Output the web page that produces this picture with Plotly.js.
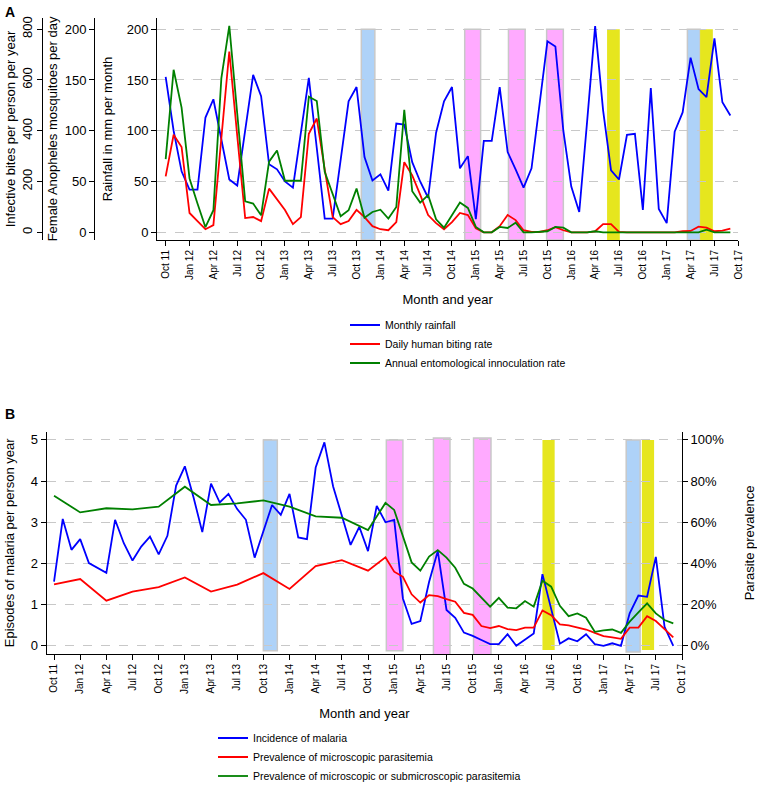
<!DOCTYPE html>
<html><head><meta charset="utf-8">
<script src="https://cdn.plot.ly/plotly-3.0.1.min.js"></script>
<style>
html,body{margin:0;padding:0;background:#fff;}
#chart{width:757px;height:787px;}
</style></head><body><div id="chart"></div>
<script>
// ---------- tick labels (every 3 months, Oct 2011 = month 0) ----------
const tickText = ["Oct 11","Jan 12","Apr 12","Jul 12","Oct 12","Jan 13","Apr 13","Jul 13","Oct 13","Jan 14","Apr 14","Jul 14","Oct 14","Jan 15","Apr 15","Jul 15","Oct 15","Jan 16","Apr 16","Jul 16","Oct 16","Jan 17","Apr 17","Jul 17","Oct 17"];
const prevTickText = ["0%","20%","40%","60%","80%","100%"];

// ---------- Panel A ----------
const rainfall = [153,100,60,42,42,113,131,91,52,46,100,155,134,67,62,50,44,98,152,83,13.5,13.5,71,129,143,74,51,57,41,107,106,69,50,34,98,129,143,63,75,13,90,90,143,79,62,44,63,125,188,183,100,45,20,110,203,120,61,52,96,97,22,142,23,9,99,118,172,141,133,191,128,115];
const bitingRate = [55,96,84,19,11,3,7,92,178,95,14,15,11,43,32,22,8,15,97,112,62,15,8,11,22,15,6,3,2,10,69,56,37,17,9,3,10,19,17,4,0,0,6,17,12,2,0.3,0.3,2,5,2,0,0,0,1,8,8,0.3,0,0,0,0,0,0,0,1,1.3,5.6,4.6,1,1.6,3.6];
const eir = [288,640,491,212,113,20,87,606,813,470,122,113,67,278,322,203,203,203,534,517,238,154,63,87,172,57,80,89,54,100,482,162,117,146,51,18,67,117,96,21,0,0,21,17,38,0,0,1,4,21,18,0,0,0,4,0,0,0,0,0,0,0,0,0,0,0,0,0,10,0,0,0];

// ---------- Panel B ----------
const incidence = [1.56,3.08,2.33,2.59,2.01,1.9,1.77,3.06,2.49,2.07,2.41,2.65,2.22,2.67,3.89,4.36,3.6,2.76,3.94,3.48,3.69,3.32,3.06,2.14,2.77,3.42,3.18,3.69,2.63,2.59,4.33,4.94,3.87,3.18,2.45,2.89,2.3,3.4,3.0,3.06,1.15,0.53,0.6,1.55,2.3,0.87,0.68,0.32,0.24,0.14,0.04,0.04,0.28,0,0.15,0.3,1.74,0.9,0.05,0.18,0.11,0.28,0.04,0,0.06,0,0.79,1.22,1.19,2.16,0.46,0];
const microPrev = [29.8,null,null,32.4,null,null,21.9,null,null,26.3,null,null,28.5,null,null,33.2,null,null,26.3,null,null,29.7,null,null,35.3,null,null,27.6,null,null,38.7,null,null,41.6,null,null,36.5,null,43,36,33.5,25,21,24.6,24.1,22.7,21.4,16,15,9.6,8.6,9.6,8.1,7.6,8.8,8.8,17.2,14.9,10.4,9.9,8.9,7.9,6.3,4.7,4.1,3.4,8.8,8.8,14.4,12,8.1,4.1];
const subPrev = [72.9,null,null,64.8,null,null,66.8,null,null,66.3,null,null,67.6,null,null,77.3,null,null,68.4,null,null,69.2,null,null,70.6,null,null,67.6,null,null,62.9,null,null,62.2,null,null,56.2,null,69.4,66,53.8,40.5,36.5,43.3,46.5,42.8,37.9,30.1,27.8,23.3,19,23.3,18.5,18.2,21.7,19,31.6,28.7,19.4,14.4,15.7,13.6,6.8,7.5,7.9,6.3,11.7,16.2,20.6,15.7,12.5,10.9];

// ---------- highlighted periods (month index start/end, kind) ----------
const periodKindA = ["blue","pink","pink","pink","yellow","blue","yellow"];
const periodStartA = [24.6,37.6,43.1,47.9,55.5,65.6,67.2];
const periodEndA   = [26.3,39.6,45.2,50.0,57.1,67.2,68.8];
const periodKindB = ["blue","pink","pink","pink","yellow","blue","yellow"];
const periodStartB = [24.0,38.1,43.5,48.1,56.0,65.6,67.4];
const periodEndB   = [25.6,40.0,45.4,50.1,57.4,67.2,68.8];
const periodBottomB = [-0.12,-0.12,-0.24,-0.24,-0.1,-0.15,-0.1];
const periodTopB = [5,5,5.05,5.05,5,5,5];

// ---------- layout helpers ----------
const W = 757, H = 787;
const fx = p => p / W;
const fy = p => 1 - p / H;
const FONT = "Liberation Sans, Arial, Helvetica, sans-serif";
const idx = rainfall.map((_, i) => i);
const tickVals = tickText.map((_, k) => 3 * k);
const prevTickVals = prevTickText.map(t => parseFloat(t));

const fillCol = {blue: "rgb(174,210,248)", pink: "rgb(255,170,255)", yellow: "rgb(230,230,30)"};
const lineCol = {blue: "rgb(200,200,200)", pink: "rgb(200,200,200)", yellow: "rgba(0,0,0,0)"};

const shapes = [];
periodKindA.forEach((k, j) => shapes.push({
  type: "rect", xref: "x", yref: "y", layer: "below",
  x0: periodStartA[j], x1: periodEndA[j], y0: -7.6, y1: 200,
  fillcolor: fillCol[k], line: {color: lineCol[k], width: k === "yellow" ? 0 : 1.5}
}));
periodKindB.forEach((k, j) => shapes.push({
  type: "rect", xref: "x2", yref: "y4", layer: "below",
  x0: periodStartB[j], x1: periodEndB[j], y0: periodBottomB[j], y1: periodTopB[j],
  fillcolor: fillCol[k], line: {color: lineCol[k], width: k === "yellow" ? 0 : 1.5}
}));

const tickFont = {family: FONT, size: 13, color: "#000"};
const xTickFont = {family: FONT, size: 10, color: "#000"};
const titleFont = {family: FONT, size: 13, color: "#000"};

const baseY = {
  ticks: "outside", ticklen: 5, tickcolor: "#000", showline: true, linecolor: "#000", linewidth: 1,
  zeroline: false, automargin: false, tickfont: tickFont
};
const baseX = {
  ticks: "outside", ticklen: 5, tickcolor: "#000", showline: true, linecolor: "#000", linewidth: 1,
  zeroline: false, automargin: false, showgrid: false, tickmode: "array",
  tickvals: tickVals, ticktext: tickText, tickangle: -90, tickfont: xTickFont
};

const traces = [
  {x: idx, y: rainfall, xaxis: "x", yaxis: "y", type: "scatter", mode: "lines",
   name: "Monthly rainfall", line: {color: "rgb(0,0,255)", width: 1.8}, legend: "legend"},
  {x: idx, y: bitingRate, xaxis: "x", yaxis: "y2", type: "scatter", mode: "lines",
   name: "Daily human biting rate", line: {color: "rgb(255,0,0)", width: 1.8}, legend: "legend"},
  {x: idx, y: eir, xaxis: "x", yaxis: "y3", type: "scatter", mode: "lines",
   name: "Annual entomological innoculation rate", line: {color: "rgb(0,128,0)", width: 1.8}, legend: "legend"},
  {x: idx, y: incidence, xaxis: "x2", yaxis: "y4", type: "scatter", mode: "lines",
   name: "Incidence of malaria", line: {color: "rgb(0,0,255)", width: 1.8}, legend: "legend2"},
  {x: idx, y: microPrev, xaxis: "x2", yaxis: "y5", type: "scatter", mode: "lines", connectgaps: true,
   name: "Prevalence of microscopic parasitemia", line: {color: "rgb(255,0,0)", width: 1.8}, legend: "legend2"},
  {x: idx, y: subPrev, xaxis: "x2", yaxis: "y5", type: "scatter", mode: "lines", connectgaps: true,
   name: "Prevalence of microscopic or submicroscopic parasitemia", line: {color: "rgb(0,128,0)", width: 1.8}, legend: "legend2"}
];

const layout = {
  width: W, height: H,
  margin: {l: 0, r: 0, t: 0, b: 0, autoexpand: false},
  paper_bgcolor: "#fff", plot_bgcolor: "rgba(0,0,0,0)",
  font: {family: FONT, color: "#000"},
  showlegend: true, hovermode: false,
  xaxis: Object.assign({}, baseX, {
    domain: [fx(157), fx(738.3)], range: [-1.09, 72], anchor: "y",
    title: {text: "Month and year", font: titleFont, standoff: 15}
  }),
  yaxis: Object.assign({}, baseY, {
    domain: [fy(240), fy(18)], range: [-7.6, 211], anchor: "x",
    tickvals: [0, 50, 100, 150, 200], showgrid: true, gridcolor: "rgb(200,200,200)", griddash: "dash", gridwidth: 1,
    title: {text: "Rainfall in mm per month", font: titleFont, standoff: 11}
  }),
  yaxis2: Object.assign({}, baseY, {
    overlaying: "y", anchor: "free", position: fx(94), side: "left",
    range: [-7.6, 211], tickvals: [0, 50, 100, 150, 200], showgrid: false,
    title: {text: "Female Anopheles mosquitoes per day", font: titleFont, standoff: 3}
  }),
  yaxis3: Object.assign({}, baseY, {
    overlaying: "y", anchor: "free", position: fx(42), side: "left",
    range: [-30.4, 844], tickvals: [0, 200, 400, 600, 800], tickangle: -90, showgrid: false,
    title: {text: "Infective bites per person per year", font: titleFont, standoff: 0}
  }),
  xaxis2: Object.assign({}, baseX, {
    domain: [fx(46.7), fx(682)], range: [-0.84, 72], anchor: "y4",
    title: {text: "Month and year", font: titleFont, standoff: 15}
  }),
  yaxis4: Object.assign({}, baseY, {
    domain: [fy(654), fy(431.7)], range: [-0.2, 5.2], anchor: "x2",
    tickvals: [0, 1, 2, 3, 4, 5], showgrid: true, gridcolor: "rgb(200,200,200)", griddash: "dash", gridwidth: 1,
    title: {text: "Episodes of malaria per person year", font: titleFont, standoff: 13}
  }),
  yaxis5: Object.assign({}, baseY, {
    overlaying: "y4", anchor: "x2", side: "right",
    range: [-4, 104], tickmode: "array", tickvals: prevTickVals, ticktext: prevTickText, showgrid: false,
    title: {text: "Parasite prevalence", font: titleFont, standoff: 22}
  }),
  legend: {x: fx(345), y: fy(310.5), xanchor: "left", yanchor: "top", bgcolor: "rgba(0,0,0,0)",
    font: {family: FONT, size: 10.5, color: "#000"}, itemwidth: 30, tracegroupgap: 0},
  legend2: {x: fx(213), y: fy(723.5), xanchor: "left", yanchor: "top", bgcolor: "rgba(0,0,0,0)",
    font: {family: FONT, size: 10.5, color: "#000"}, itemwidth: 30, tracegroupgap: 0},
  shapes: shapes,
  annotations: [
    {text: "<b>A</b>", xref: "paper", yref: "paper", x: fx(3), y: fy(2), xanchor: "left", yanchor: "top",
     showarrow: false, font: {family: FONT, size: 14, color: "#000"}},
    {text: "<b>B</b>", xref: "paper", yref: "paper", x: fx(3), y: fy(404), xanchor: "left", yanchor: "top",
     showarrow: false, font: {family: FONT, size: 14, color: "#000"}}
  ]
};

Plotly.newPlot("chart", traces, layout, {staticPlot: true, displayModeBar: false});
</script></body></html>
